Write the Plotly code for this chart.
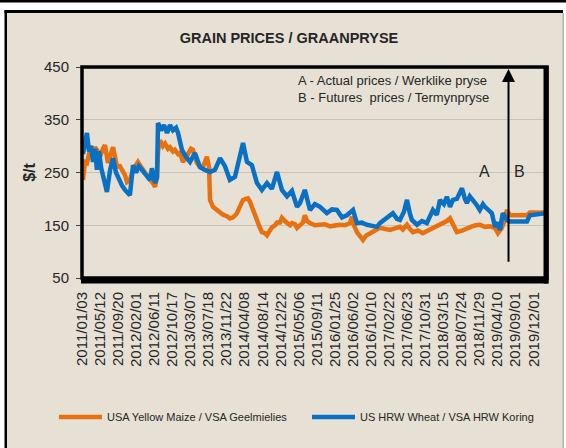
import plotly.graph_objects as go

# ---------------- data ----------------
tick_labels = ["2011/01/03", "2011/05/12", "2011/09/20", "2012/02/01", "2012/06/11",
               "2012/10/17", "2013/03/07", "2013/07/18", "2013/11/22", "2014/04/08",
               "2014/08/14", "2014/12/22", "2015/05/06", "2015/09/11", "2016/01/25",
               "2016/06/02", "2016/10/10", "2017/02/22", "2017/06/23", "2017/10/31",
               "2018/03/15", "2018/07/24", "2018/11/29", "2019/04/10", "2019/09/01",
               "2019/12/01"]
tick_step = 92          # trading days between labelled categories
last_day = 2368
split_day = 2172        # A (actual) | B (futures)

maize_day = [5, 15, 25, 36, 46, 56, 66, 81, 92, 107, 117, 132, 148, 158, 168, 178, 193, 204,
             219, 229, 244, 260, 270, 285, 295, 311, 321, 336, 346, 361, 372, 382, 387, 397,
             412, 423, 438, 448, 463, 473, 489, 499, 514, 529, 540, 555, 565, 575, 585, 601,
             616, 626, 636, 647, 652, 667, 682, 703, 718, 738, 753, 769, 784, 794, 809, 820,
             835, 845, 855, 865, 881, 891, 906, 916, 932, 942, 957, 967, 983, 993, 1008, 1018,
             1033, 1044, 1059, 1069, 1084, 1095, 1110, 1125, 1135, 1146, 1161, 1186, 1212,
             1237, 1263, 1288, 1313, 1339, 1364, 1375, 1385, 1400, 1415, 1431, 1446, 1466,
             1492, 1517, 1543, 1568, 1594, 1619, 1634, 1655, 1670, 1685, 1711, 1736, 1762,
             1787, 1812, 1838, 1858, 1874, 1889, 1909, 1935, 1960, 1986, 2006, 2026, 2052,
             2077, 2103, 2118, 2138, 2154, 2164, 2179, 2266, 2281, 2367]
maize_price = [236, 270, 268, 290, 300, 285, 298, 290, 280, 295, 302, 268, 290, 298, 280, 261,
               262, 255, 245, 232, 236, 255, 261, 270, 264, 255, 249, 240, 236, 230, 223, 242,
               290, 311, 300, 305, 295, 298, 290, 293, 285, 287, 270, 278, 287, 295, 293, 280,
               268, 261, 261, 270, 280, 260, 198, 185, 180, 173, 170, 167, 163, 165, 170, 177,
               190, 198, 200, 201, 195, 185, 165, 154, 145, 137, 135, 131, 140, 146, 150, 155,
               155, 164, 158, 154, 150, 154, 152, 145, 151, 155, 169, 158, 154, 150, 151, 152,
               148, 150, 151, 150, 154, 166, 150, 137, 130, 122, 130, 135, 140, 145, 142, 141,
               144, 147, 142, 151, 143, 137, 140, 135, 140, 145, 148, 154, 158, 163, 150, 137,
               140, 145, 148, 150, 151, 147, 148, 145, 135, 145, 160, 179, 169, 169, 174, 174]

wheat_day = [5, 15, 25, 36, 46, 56, 66, 76, 87, 97, 112, 127, 143, 158, 173, 188, 204, 219, 234,
             244, 260, 275, 290, 305, 321, 336, 346, 356, 372, 382, 387, 402, 417, 433, 448,
             463, 479, 489, 509, 529, 550, 575, 601, 626, 652, 677, 703, 728, 753, 779, 804,
             820, 840, 865, 891, 916, 942, 967, 993, 1018, 1044, 1069, 1095, 1110, 1135, 1161,
             1186, 1212, 1247, 1273, 1298, 1324, 1349, 1380, 1400, 1425, 1451, 1476, 1502,
             1517, 1537, 1553, 1583, 1604, 1619, 1639, 1655, 1670, 1680, 1706, 1731, 1756,
             1787, 1807, 1823, 1843, 1858, 1874, 1889, 1909, 1935, 1950, 1960, 1975, 1991,
             2011, 2026, 2042, 2052, 2067, 2087, 2103, 2118, 2128, 2143, 2164, 2179, 2266,
             2281, 2367]
wheat_price = [285, 310, 325, 290, 300, 270, 295, 255, 290, 260, 240, 213, 255, 277, 250, 235,
               225, 217, 210, 207, 264, 250, 262, 255, 250, 240, 236, 258, 230, 240, 344, 330,
               340, 325, 340, 330, 335, 325, 293, 280, 270, 287, 260, 255, 251, 255, 277, 262,
               236, 242, 287, 306, 270, 264, 230, 217, 230, 219, 251, 217, 205, 215, 185, 192,
               217, 179, 190, 185, 173, 180, 179, 165, 169, 179, 154, 155, 151, 150, 147, 154,
               160, 166, 173, 162, 160, 175, 198, 172, 160, 151, 158, 154, 179, 170, 198, 190,
               204, 185, 198, 200, 220, 200, 192, 205, 198, 188, 179, 190, 185, 180, 173, 147,
               155, 141, 173, 160, 157, 157, 169, 173]

# ---------------- layout helpers ----------------
W, H = 566, 448
L, R, T, B = 82, 19, 67, 170
PW, PH = W - L - R, H - T - B
BEIGE = "#E7E1D5"
TXT = "#262626"
FONT = "Liberation Sans, Arial, sans-serif"


def px(xp):
    return (xp - L) / PW


def py(yp):
    return (H - B - yp) / PH


fig = go.Figure()
fig.add_trace(go.Scatter(x=maize_day, y=maize_price, mode="lines",
                         name="USA Yellow Maize / VSA Geelmielies",
                         line=dict(color="#E8700F", width=4.5)))
fig.add_trace(go.Scatter(x=wheat_day, y=wheat_price, mode="lines",
                         name="US HRW Wheat / VSA HRW Koring",
                         line=dict(color="#0A70C4", width=4.5)))

shapes = [
    # outer frame
    dict(type="rect", xref="paper", yref="paper", layer="below",
         x0=px(6), x1=px(563), y0=py(448), y1=py(11), fillcolor=BEIGE, line_width=0),
    dict(type="rect", xref="paper", yref="paper", x0=px(0), x1=px(566), y0=py(2.5), y1=py(0),
         fillcolor="black", line_width=0),
    dict(type="rect", xref="paper", yref="paper", x0=px(4.5), x1=px(7), y0=py(448), y1=py(10),
         fillcolor="black", line_width=0),
    dict(type="rect", xref="paper", yref="paper", x0=px(4.5), x1=px(563), y0=py(13), y1=py(10),
         fillcolor="black", line_width=0),
    dict(type="rect", xref="paper", yref="paper", x0=px(562.5), x1=px(564), y0=py(448), y1=py(13),
         fillcolor="#B8B4AC", line_width=0),
    # plot frame
    dict(type="rect", xref="paper", yref="paper", x0=0, x1=1, y0=0, y1=1,
         line=dict(color="black", width=3.5)),
    dict(type="rect", xref="paper", yref="paper", x0=px(81), x1=px(548.5), y0=py(283.5), y1=py(277),
         fillcolor="black", line_width=0),
    dict(type="rect", xref="paper", yref="paper", x0=px(543.5), x1=px(548.5), y0=py(283.5), y1=py(66),
         fillcolor="black", line_width=0),
]

annotations = [
    dict(xref="paper", yref="paper", x=px(296), y=py(89), xanchor="left", yanchor="middle",
         align="left", showarrow=False,
         text="A - Actual prices / Werklike pryse<br>B - Futures  prices / Termynpryse",
         font=dict(family=FONT, size=13, color=TXT)),
    dict(xref="paper", yref="paper", x=px(492), y=py(171), showarrow=False, text="A",
         font=dict(family=FONT, size=16, color=TXT)),
    dict(xref="paper", yref="paper", x=px(527), y=py(171), showarrow=False, text="B",
         font=dict(family=FONT, size=16, color=TXT)),
    dict(x=split_day, y=446, ax=split_day, ay=78, xref="x", yref="y", axref="x", ayref="y",
         text="", showarrow=True, arrowhead=2, arrowsize=1.3, arrowwidth=2, arrowcolor="black"),
]

fig.update_layout(
    width=W, height=H,
    margin=dict(l=L, r=R, t=T, b=B, autoexpand=False),
    paper_bgcolor="white", plot_bgcolor=BEIGE,
    font=dict(family=FONT, color=TXT),
    title=dict(text="<b>GRAIN PRICES / GRAANPRYSE</b>", x=289 / W, y=1 - 38 / H,
               xanchor="center", yanchor="middle", xref="container", yref="container",
               font=dict(family=FONT, size=14.5, color=TXT)),
    showlegend=True,
    legend=dict(orientation="h", x=px(54), y=py(417), xanchor="left", yanchor="middle",
                xref="paper", yref="paper", bgcolor="rgba(0,0,0,0)",
                font=dict(family=FONT, size=11, color=TXT),
                itemwidth=43, entrywidth=195, entrywidthmode="pixels"),
    shapes=shapes,
    annotations=annotations,
    xaxis=dict(range=[0, last_day], tickvals=[i * tick_step for i in range(len(tick_labels))],
               ticktext=tick_labels, tickangle=-90, showgrid=False, zeroline=False,
               showline=False, ticks="", ticklabelstandoff=10,
               tickfont=dict(family=FONT, size=15, color=TXT)),
    yaxis=dict(range=[50, 450], tickvals=[50, 150, 250, 350, 450], showgrid=True,
               gridcolor="#C9C3B8", gridwidth=1, zeroline=False, showline=False,
               ticks="outside", ticklen=5, tickcolor="#404040", ticklabelstandoff=4,
               tickfont=dict(family=FONT, size=15, color=TXT),
               title=dict(text="<b>$/t</b>", standoff=4,
                          font=dict(family=FONT, size=16, color=TXT))),
)

fig.write_html("out.html", config={"displayModeBar": False},
               post_script="document.body.style.margin='0';")
